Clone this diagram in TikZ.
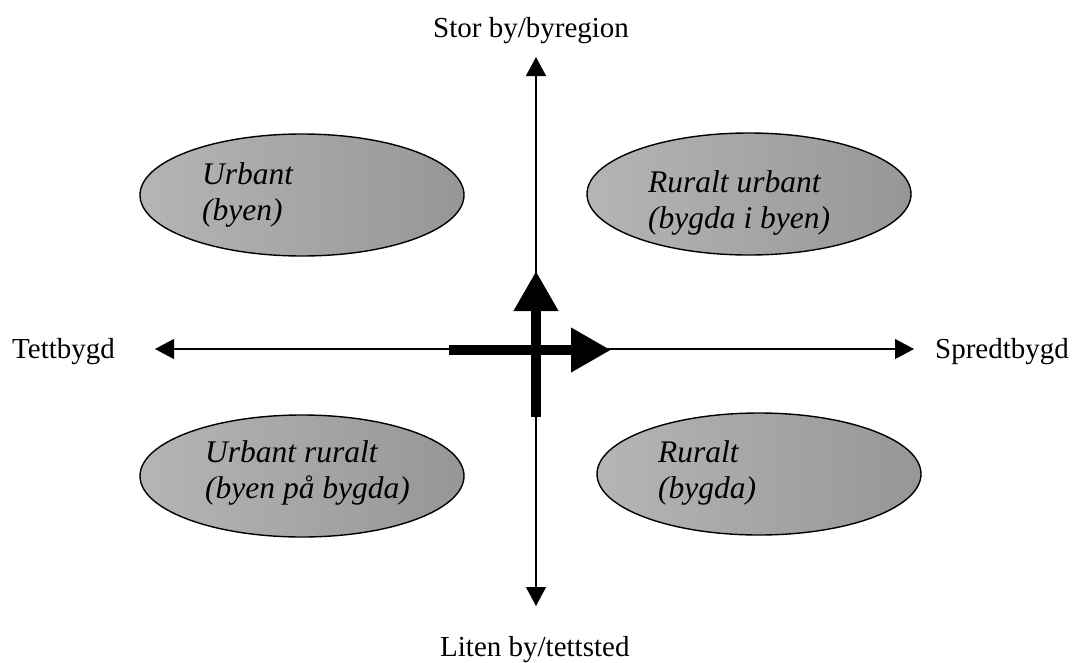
\documentclass[tikz,border=0pt]{standalone}
\usepackage{fontspec}
\setmainfont{Liberation Serif}
\usetikzlibrary{shapes.geometric,arrows.meta}
\tikzset{
  zone/.style={ellipse, draw=black, line width=1.4pt, minimum width=324pt, minimum height=122pt, inner sep=0pt, shading=axis, left color=gray!58, right color=gray!82},
  zonetext/.style={anchor=base west, inner sep=0pt, font=\fontsize{31.5}{36}\selectfont\itshape},
  axislabel/.style={anchor=base west, inner sep=0pt, font=\fontsize{29}{34}\selectfont},
  axisline/.style={line width=1.2pt, {Triangle[length=19pt,width=20pt]}-{Triangle[length=19pt,width=20pt]}},
  bigarrow/.style={line width=10pt, -{Triangle[length=40pt,width=42pt]}}
}
\newcommand{\zlines}[2]{\begin{tabular}[t]{@{}l@{}}#1\\#2\end{tabular}}
\begin{document}
\begin{tikzpicture}[x=1pt,y=-1pt]
\useasboundingbox (0,0) rectangle (1077,662);
% ellipses
\node[zone] (ul) at (302,195) {};
\node[zone] (ur) at (749,194) {};
\node[zone] (ll) at (302,476) {};
\node[zone] (lr) at (759,474) {};
\node[zonetext] (ult) at (202,184) {\zlines{Urbant}{(byen)}};
\node[zonetext] (urt) at (648,192) {\zlines{Ruralt urbant}{(bygda i byen)}};
\node[zonetext] (llt) at (205,462) {\zlines{Urbant ruralt}{(byen på bygda)}};
\node[zonetext] (lrt) at (658,462) {\zlines{Ruralt}{(bygda)}};
% axis ends
\coordinate (top) at (536,57);
\coordinate (bottom) at (536,606);
\coordinate (left) at (155,349);
\coordinate (right) at (914,349);
\draw[axisline] (bottom) -- (top);
\draw[axisline] (left) -- (right);
% labels
\node[axislabel] (lt) at (433,37) {Stor by/byregion};
\node[axislabel] (lb) at (440,656) {Liten by/tettsted};
\node[axislabel] (ll2) at (12,358) {Tettbygd};
\node[axislabel] (lr2) at (935,358) {Spredtbygd};
% central thick arrows
\coordinate (hs) at (449,350);
\coordinate (he) at (611,350);
\coordinate (vs) at (536,417);
\coordinate (ve) at (536,271);
\draw[bigarrow] (hs) -- (he);
\draw[bigarrow] (vs) -- (ve);
\end{tikzpicture}
\end{document}
